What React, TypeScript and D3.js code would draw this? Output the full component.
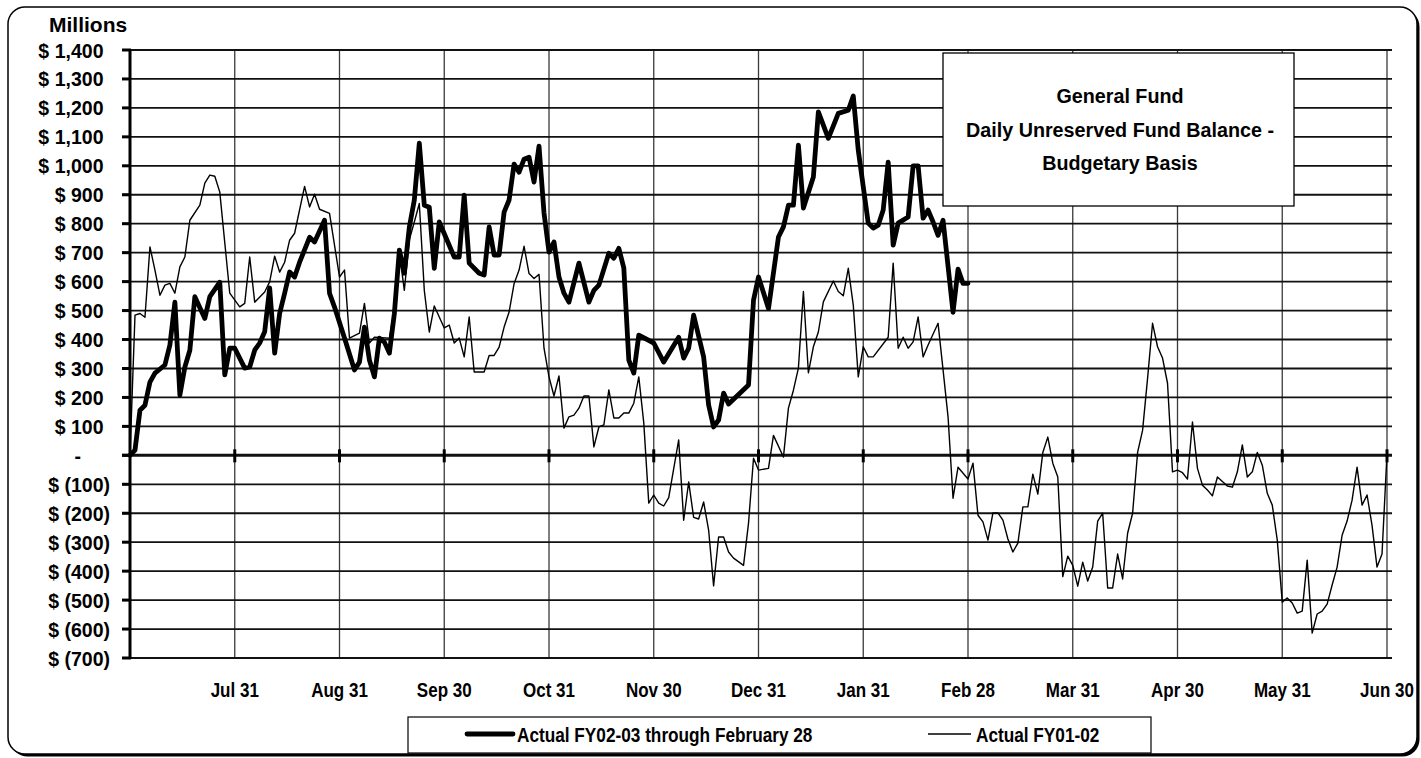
import React from "react";
import * as d3 from "d3";

// Business-day index (21 per month, 252 per fiscal year) and balance in $ millions
const fy0203: [number, number][] = [
  [0, 0], [1, 18], [2, 156], [3, 173], [4, 253], [5, 284], [7, 312], [8, 381], [9, 529], [10, 208],
  [11, 305], [12, 363], [13, 548], [15, 473], [16, 548], [18, 598], [19, 278], [20, 370], [21, 370],
  [23, 301], [24, 305], [25, 363], [26, 388], [27, 427], [28, 578], [29, 353], [30, 490], [31, 560],
  [32, 633], [33, 616], [34, 667], [36, 753], [37, 737], [39, 812], [40, 560], [41, 512], [43, 405],
  [45, 295], [46, 322], [47, 443], [48, 329], [49, 271], [50, 405], [51, 391], [52, 353], [53, 490],
  [54, 709], [55, 629], [56, 788], [57, 882], [58, 1078], [59, 864], [60, 857], [61, 646], [62, 806],
  [65, 685], [66, 685], [67, 899], [68, 664], [70, 629], [71, 623], [72, 789], [73, 692], [74, 692],
  [75, 840], [76, 882], [77, 1006], [78, 978], [79, 1023], [80, 1030], [81, 944], [82, 1068], [83, 837],
  [84, 702], [85, 737], [86, 616], [87, 560], [88, 529], [90, 664], [92, 529], [93, 570], [94, 588],
  [96, 698], [97, 681], [98, 715], [99, 647], [100, 329], [101, 284], [102, 415], [105, 388], [107, 322],
  [110, 408], [111, 336], [112, 370], [113, 484], [115, 340], [116, 174], [117, 98], [118, 122],
  [119, 215], [120, 177], [124, 243], [125, 536], [126, 616], [128, 507], [130, 754], [131, 789],
  [132, 864], [133, 864], [134, 1071], [135, 854], [137, 961], [138, 1186], [140, 1095], [142, 1181],
  [144, 1192], [145, 1241], [146, 1054], [148, 802], [149, 785], [150, 795], [151, 847], [152, 1013],
  [153, 726], [154, 802], [156, 823], [157, 1000], [158, 1000], [159, 819], [160, 847], [161, 806],
  [162, 760], [163, 812], [165, 494], [166, 643], [167, 594], [168, 594],
];

const fy0102: [number, number][] = [
  [0, 0], [1, 484], [2, 490], [3, 477], [4, 720], [5, 640], [6, 553], [7, 588], [8, 594], [9, 560],
  [10, 651], [11, 685], [12, 812], [14, 864], [15, 940], [16, 968], [17, 964], [18, 909], [20, 560],
  [22, 513], [23, 525], [24, 685], [25, 529], [27, 564], [28, 599], [29, 688], [30, 633], [31, 667],
  [32, 743], [33, 767], [35, 929], [36, 858], [37, 902], [38, 850], [40, 836], [42, 616], [43, 640],
  [44, 405], [46, 422], [47, 525], [48, 388], [49, 408], [52, 405], [53, 508], [54, 700], [55, 570],
  [56, 744], [57, 806], [58, 870], [59, 570], [60, 426], [61, 516], [63, 440], [64, 450], [65, 388],
  [66, 405], [67, 340], [68, 478], [69, 288], [71, 288], [72, 345], [73, 345], [74, 374], [75, 443],
  [76, 495], [77, 593], [78, 640], [79, 722], [80, 628], [81, 611], [82, 625], [83, 370], [84, 271],
  [85, 205], [86, 274], [87, 94], [88, 133], [89, 139], [90, 163], [91, 205], [92, 205], [93, 29],
  [94, 98], [95, 105], [96, 226], [97, 129], [98, 129], [99, 146], [100, 146], [101, 180], [102, 271],
  [103, 112], [104, -165], [105, -137], [106, -165], [107, -175], [108, -146], [110, 53], [111, -224],
  [112, -92], [113, -214], [114, -220], [115, -161], [116, -258], [117, -451], [118, -282], [119, -282],
  [120, -334], [121, -355], [123, -380], [124, -234], [125, -10], [126, -51], [128, -45], [129, 69],
  [131, -6], [132, 163], [133, 225], [134, 301], [135, 566], [136, 285], [137, 375], [138, 426],
  [139, 530], [141, 602], [142, 566], [143, 551], [144, 646], [145, 519], [146, 271], [147, 375],
  [148, 340], [149, 340], [152, 408], [153, 664], [154, 370], [155, 408], [156, 370], [157, 392],
  [158, 478], [159, 340], [160, 381], [162, 456], [163, 295], [164, 133], [165, -148], [166, -41],
  [168, -82], [169, -27], [170, -207], [171, -230], [172, -293], [173, -199], [174, -199], [175, -224],
  [176, -289], [177, -334], [178, -303], [179, -178], [180, -178], [181, -65], [182, -134], [183, 10],
  [184, 63], [185, -27], [186, -75], [187, -419], [188, -348], [189, -380], [190, -452], [191, -369],
  [192, -434], [193, -386], [194, -227], [195, -200], [196, -458], [197, -458], [198, -341], [199, -427],
  [200, -269], [201, -200], [202, 10], [203, 86], [204, 266], [205, 456], [206, 375], [207, 336],
  [208, 249], [209, -57], [210, -51], [211, -60], [212, -82], [213, 115], [214, -45], [215, -103],
  [216, -120], [217, -140], [218, -75], [220, -106], [221, -110], [222, -57], [223, 36], [224, -75],
  [225, -57], [226, 10], [227, -34], [228, -131], [229, -172], [230, -293], [231, -507], [232, -493],
  [233, -510], [234, -545], [235, -538], [236, -362], [237, -614], [238, -548], [239, -538], [240, -514],
  [241, -448], [242, -386], [243, -276], [244, -227], [245, -155], [246, -41], [247, -172], [248, -137],
  [249, -242], [250, -386], [251, -341], [252, 5],
];

const monthLabels = ["Jul 31", "Aug 31", "Sep 30", "Oct 31", "Nov 30", "Dec 31", "Jan 31", "Feb 28", "Mar 31", "Apr 30", "May 31", "Jun 30"];
const yTicks = [1400, 1300, 1200, 1100, 1000, 900, 800, 700, 600, 500, 400, 300, 200, 100, 0, -100, -200, -300, -400, -500, -600, -700];
const titleLines = ["General Fund", "Daily Unreserved Fund Balance -", "Budgetary Basis"];
const legendLabels = ["Actual FY02-03 through February 28", "Actual FY01-02"];

const FONT = "'Liberation Sans', Arial, Helvetica, sans-serif";

function T({ x, y, sx = 1, anchor = "start", size = 21, children }: any) {
  return (
    <text
      transform={`translate(${x},${y}) scale(${sx},1)`}
      textAnchor={anchor}
      fontFamily={FONT}
      fontWeight="bold"
      fontSize={size}
      fill="#000"
    >
      {children}
    </text>
  );
}

function fmt(v: number) {
  if (v === 0) return "-";
  const s = d3.format(",")(Math.abs(v));
  return v < 0 ? `$ (${s})` : `$ ${s}`;
}

export default function App() {
  const W = 1421, H = 758;
  const x = d3.scaleLinear().domain([0, 252]).range([130, 1387]);
  const y = d3.scaleLinear().domain([-700, 1400]).range([658, 50]);
  const line = d3.line<[number, number]>().x((d) => x(d[0])).y((d) => y(d[1]));
  const monthDays = monthLabels.map((_, i) => (i + 1) * 21);

  return (
    <svg width={W} height={H} style={{ position: "absolute", left: 0, top: 0, background: "#fff" }}>
      {/* frame with shadow */}
      <rect x={10.5} y={9.5} width={1409} height={747} rx={17} fill="#000" />
      <rect x={8} y={7} width={1409} height={747} rx={17} fill="#fff" stroke="#000" strokeWidth={1.5} />

      <T x={49} y={32} size={21}>Millions</T>

      {/* vertical gridlines */}
      {monthDays.map((d) => (
        <line key={"v" + d} x1={x(d)} x2={x(d)} y1={y(1400)} y2={y(-700)} stroke="#3a3a3a" strokeWidth={1.3} />
      ))}
      {/* horizontal gridlines */}
      {yTicks.map((v) => (
        <line key={"h" + v} x1={122} x2={1392} y1={y(v)} y2={y(v)} stroke="#111" strokeWidth={v === 0 ? 3 : 1.8} />
      ))}
      {/* y tick marks */}
      {yTicks.map((v) => (
        <line key={"t" + v} x1={122} x2={131} y1={y(v)} y2={y(v)} stroke="#000" strokeWidth={3} />
      ))}
      {/* y axis */}
      <line x1={x(0)} x2={x(0)} y1={y(1400) - 1} y2={y(-700) + 1} stroke="#000" strokeWidth={3} />
      {/* x tick marks on zero line */}
      {monthDays.map((d) => (
        <line key={"xt" + d} x1={x(d)} x2={x(d)} y1={y(0) - 6} y2={y(0) + 7} stroke="#000" strokeWidth={3} />
      ))}

      {/* y labels */}
      {yTicks.map((v) => (
        <T key={"yl" + v} x={v < 0 ? 110 : v === 0 ? 81 : 103.5} y={y(v) + 7.5} sx={0.93} anchor="end">
          {fmt(v)}
        </T>
      ))}
      {/* x labels */}
      {monthDays.map((d, i) => (
        <T key={"xl" + d} x={x(d)} y={697} sx={0.81} anchor="middle">
          {monthLabels[i]}
        </T>
      ))}

      {/* series */}
      <path d={line(fy0102) || ""} fill="none" stroke="#000" strokeWidth={1.4} strokeLinejoin="round" />
      <path d={line(fy0203) || ""} fill="none" stroke="#000" strokeWidth={4.8} strokeLinejoin="round" strokeLinecap="round" />

      {/* title box */}
      <rect x={943} y={53} width={351} height={153} fill="#fff" stroke="#000" strokeWidth={1.3} />
      {titleLines.map((t, i) => (
        <T key={"tt" + i} x={1120} y={103 + i * 33.5} sx={0.94} anchor="middle">
          {t}
        </T>
      ))}

      {/* legend */}
      <rect x={408} y={717} width={743} height={36} fill="#fff" stroke="#000" strokeWidth={1.2} />
      <line x1={467} x2={513} y1={734} y2={734} stroke="#000" strokeWidth={4.8} strokeLinecap="round" />
      <T x={517} y={742} sx={0.82}>{legendLabels[0]}</T>
      <line x1={928} x2={971} y1={734} y2={734} stroke="#000" strokeWidth={1.4} />
      <T x={976} y={742} sx={0.82}>{legendLabels[1]}</T>
    </svg>
  );
}
